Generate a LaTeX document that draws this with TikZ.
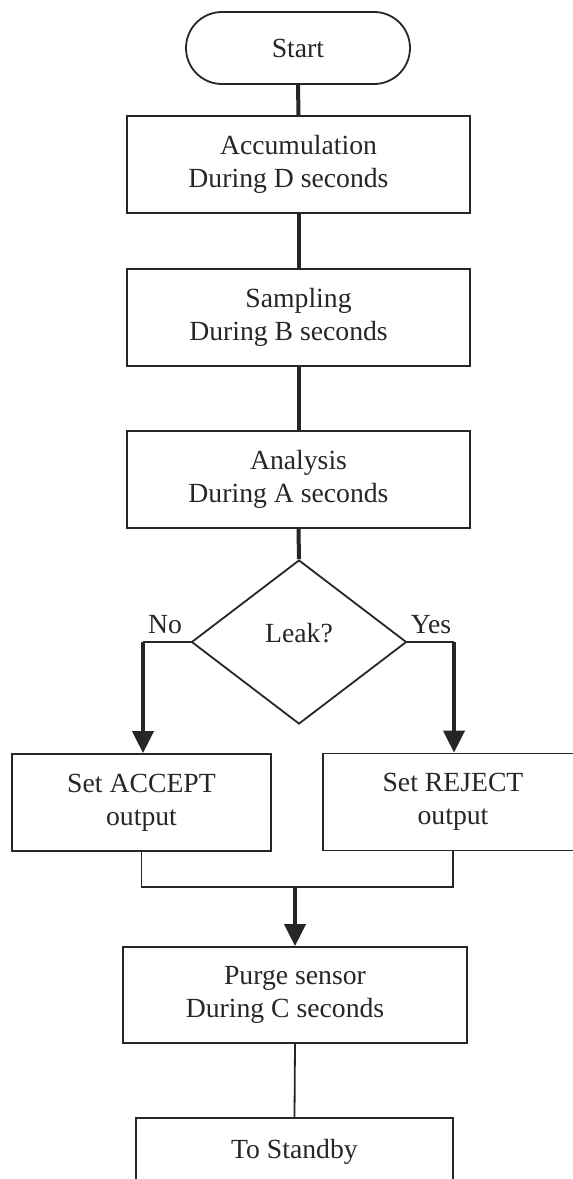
\documentclass[tikz,border=0pt]{standalone}
\usepackage{fontspec}
\setmainfont{Liberation Serif}
\usetikzlibrary{arrows.meta,shapes.geometric}
\definecolor{ink}{HTML}{262626}
\begin{document}
\begin{tikzpicture}[x=1pt,y=-1pt,
  every node/.style={text=ink, font=\fontsize{27.7}{33}\selectfont},
  box/.style={draw=ink, line width=1.8pt, minimum width=343pt, minimum height=97pt, align=center, inner sep=0pt},
  heavy/.style={draw=ink, line width=4pt},
  lite/.style={draw=ink, line width=1.8pt},
  arr/.style={-{Triangle[width=21pt,length=22pt]}}]
\useasboundingbox (0,0) rectangle (573,1179);
\clip (0,0) rectangle (573,1179);
\node[draw=ink, line width=1.8pt, rounded corners=36pt, minimum width=224pt, minimum height=72pt] (start) at (298,48) {Start};
\node[box] (acc) at (298.5,164.5) {Accumulation\\During D seconds\hspace*{20pt}};
\node[box] (smp) at (298.5,317.5) {Sampling\\During B seconds\hspace*{20pt}};
\node[box] (ana) at (298.5,479.5) {Analysis\\During A seconds\hspace*{20pt}};
\node[draw=ink, line width=1.8pt, diamond, minimum width=215pt, minimum height=164pt, inner sep=0pt] (leak) at (299,642) {};
\node[anchor=base] (leaktxt) at (299,642) {Leak?};
\node[anchor=base] (no) at (165,633) {No};
\node[anchor=base] (yes) at (431,633) {Yes};
\node[box, minimum width=259pt] (accept) at (141.5,802.5) {Set ACCEPT\\output};
\node[box, minimum width=260pt] (reject) at (453,802) {Set REJECT\\output};
\node[box, minimum width=344pt, minimum height=96pt] (purge) at (295,995) {Purge sensor\\During C seconds\hspace*{20pt}};
\node[draw=ink, line width=1.8pt, minimum width=317pt, minimum height=120pt, anchor=north] (stb) at (294.5,1117) {};
\node[anchor=base] (stbtxt) at (294.5,1158) {To Standby};
\coordinate (nl) at (143,642);
\coordinate (yr) at (454,642);
\coordinate (mc) at (295,887);
\draw[heavy] (start.south) -- (acc.north);
\draw[heavy] (acc.south) -- (smp.north);
\draw[heavy] (smp.south) -- (ana.north);
\draw[heavy] (ana.south) -- (leak.north);
\draw[lite] (leak.west) -- (nl);
\draw[heavy,arr] (nl) -- (nl |- accept.north);
\draw[lite] (leak.east) -- (yr);
\draw[heavy,arr] (yr) -- (yr |- reject.north);
\draw[lite] (accept.south) |- (mc) -| (reject.south);
\draw[heavy,arr] (mc) -- (purge.north);
\draw[lite] (purge.south) -- (stb.north);
\end{tikzpicture}
\end{document}
